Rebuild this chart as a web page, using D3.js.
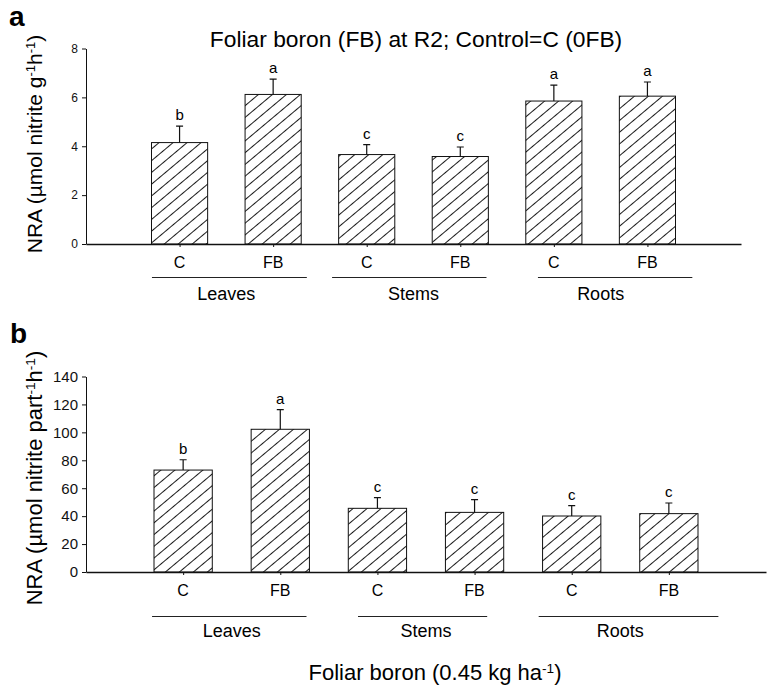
<!DOCTYPE html>
<html>
<head>
<meta charset="utf-8">
<script src="https://cdn.jsdelivr.net/npm/d3@7"></script>
<style>
  body { margin: 0; background: #fff; }
  svg { font-family: "Liberation Sans", Arial, sans-serif; }
</style>
</head>
<body>
<svg id="chart" width="768" height="687"></svg>
<script>
'use strict';

// categories
const parts = ["Leaves", "Stems", "Roots"];
const treatments = ["C", "FB"];

// panel a: NRA per g fresh weight
const nraFresh = [4.15, 6.12, 3.66, 3.58, 5.85, 6.05];
const nraFreshErr = [0.67, 0.63, 0.41, 0.39, 0.65, 0.58];
const nraFreshLetters = ["b", "a", "c", "c", "a", "a"];
const ticksA = [0, 2, 4, 6, 8];
const groupSpansA = [[0.705, 2.36], [2.63, 4.28], [4.83, 6.48]];

// panel b: NRA per plant part
const nraPart = [73, 102.2, 45.6, 42.7, 40.1, 41.8];
const nraPartErr = [7.4, 14.1, 7.6, 9.1, 7.4, 7.6];
const nraPartLetters = ["b", "a", "c", "c", "c", "c"];
const ticksB = [0, 20, 40, 60, 80, 100, 120, 140];
const groupSpansB = [[0.68, 2.27], [2.80, 4.13], [4.66, 6.51]];

function buildRows(values, errs, letters) {
    let rows = [];
    parts.forEach((p, gi) => {
        treatments.forEach((t, ti) => {
            let i = gi * 2 + ti;
            rows.push({ part: p, treat: t, pos: i + 1, value: values[i], err: errs[i], letter: letters[i] });
        });
    });
    return rows;
}

let svg = d3.select("#chart");

// hatch pattern
let defs = svg.append("defs");
defs.append("pattern")
    .attr("id", "hatch")
    .attr("patternUnits", "userSpaceOnUse")
    .attr("width", 9)
    .attr("height", 9)
    .attr("patternTransform", "rotate(-40)")
    .append("line")
    .attr("x1", 0).attr("x2", 9)
    .attr("y1", 4.5).attr("y2", 4.5)
    .attr("stroke", "#000")
    .attr("stroke-width", 0.9);

function superText(sel, parts) {
    // parts: array of [text, isSuper]
    parts.forEach(([txt, sup]) => {
        let t = sel.append("tspan").text(txt);
        if (sup) {
            t.attr("baseline-shift", "super").style("font-size", "0.62em");
        }
    });
}

function drawPanel(cfg) {
    let { rows, ticks, spans, x0, x1, yBottom, yTop, yMax, tickFont, letterFont, subY, lineY, groupY, subFont, groupFont } = cfg;

    let xScale = d3.scaleLinear().domain([0, 7]).range([x0, x1]);
    let yScale = d3.scaleLinear().domain([0, yMax]).range([yBottom, yTop]);
    let unit = xScale(1) - xScale(0);
    let barW = unit * 0.6;

    let g = svg.append("g");

    // bars
    g.selectAll(".bar")
        .data(rows)
        .enter()
        .append("rect")
        .attr("class", "bar")
        .attr("x", d => xScale(d.pos) - barW / 2)
        .attr("width", barW)
        .attr("y", d => yScale(d.value))
        .attr("height", d => yScale(0) - yScale(d.value))
        .attr("fill", "url(#hatch)")
        .attr("stroke", "#111")
        .attr("stroke-width", 1);

    // error bars (upper only)
    g.selectAll(".err")
        .data(rows)
        .enter()
        .append("path")
        .attr("class", "err")
        .attr("d", d => {
            let cx = xScale(d.pos), yt = yScale(d.value + d.err);
            return "M" + cx + "," + yScale(d.value) + "V" + yt + "M" + (cx - 3.5) + "," + yt + "H" + (cx + 3.5);
        })
        .attr("stroke", "#111")
        .attr("stroke-width", 1.2)
        .attr("fill", "none");

    // significance letters
    g.selectAll(".letter")
        .data(rows)
        .enter()
        .append("text")
        .attr("class", "letter")
        .attr("x", d => xScale(d.pos))
        .attr("y", d => yScale(d.value + d.err) - 6)
        .attr("text-anchor", "middle")
        .style("font-size", letterFont + "px")
        .text(d => d.letter);

    // y axis
    let yAxis = d3.axisLeft(yScale).tickValues(ticks).tickSize(4).tickSizeOuter(0).tickPadding(4);
    let ya = g.append("g")
        .attr("transform", "translate(" + x0 + ",0)")
        .call(yAxis);
    ya.selectAll("text").style("font-size", tickFont + "px").attr("fill", "#111").style("font-family", "inherit");
    ya.selectAll("line,path").attr("stroke", "#111");

    // x axis
    let xAxis = d3.axisBottom(xScale).tickValues(rows.map(d => d.pos)).tickFormat("").tickSize(3).tickSizeOuter(0);
    let xa = g.append("g")
        .attr("transform", "translate(0," + yBottom + ")")
        .call(xAxis);
    xa.selectAll("line").attr("stroke", "#111");
    xa.select(".domain").attr("stroke", "#111").attr("stroke-width", 1.3);

    // treatment labels
    g.selectAll(".treat")
        .data(rows)
        .enter()
        .append("text")
        .attr("class", "treat")
        .attr("x", d => xScale(d.pos))
        .attr("y", subY)
        .attr("text-anchor", "middle")
        .style("font-size", subFont + "px")
        .text(d => d.treat);

    // group lines
    g.selectAll(".gline")
        .data(spans)
        .enter()
        .append("line")
        .attr("class", "gline")
        .attr("x1", d => xScale(d[0]))
        .attr("x2", d => xScale(d[1]))
        .attr("y1", lineY)
        .attr("y2", lineY)
        .attr("stroke", "#222")
        .attr("stroke-width", 1);

    // group labels
    g.selectAll(".glabel")
        .data(parts)
        .enter()
        .append("text")
        .attr("class", "glabel")
        .attr("x", (d, i) => xScale(i * 2 + 1.5))
        .attr("y", groupY)
        .attr("text-anchor", "middle")
        .style("font-size", groupFont + "px")
        .text(d => d);
}

drawPanel({
    rows: buildRows(nraFresh, nraFreshErr, nraFreshLetters),
    ticks: ticksA, spans: groupSpansA,
    x0: 86, x1: 741, yBottom: 244, yTop: 48.5, yMax: 8,
    tickFont: 12, letterFont: 15, subY: 268, lineY: 277.5, groupY: 300, subFont: 16, groupFont: 18
});

drawPanel({
    rows: buildRows(nraPart, nraPartErr, nraPartLetters),
    ticks: ticksB, spans: groupSpansB,
    x0: 86, x1: 766, yBottom: 572, yTop: 376.5, yMax: 140,
    tickFont: 15, letterFont: 15, subY: 596, lineY: 616.5, groupY: 637, subFont: 16, groupFont: 18
});

// panel letters
svg.append("text").attr("x", 9).attr("y", 26)
    .style("font-size", "28px").style("font-weight", "bold").text("a");
svg.append("text").attr("x", 10).attr("y", 343)
    .style("font-size", "28px").style("font-weight", "bold").text("b");

// title
svg.append("text").attr("x", 416).attr("y", 47)
    .attr("text-anchor", "middle")
    .style("font-size", "22.8px")
    .text("Foliar boron (FB) at R2; Control=C (0FB)");

// y axis titles
let ylabA = svg.append("text")
    .attr("transform", "translate(42,144) rotate(-90)")
    .attr("text-anchor", "middle")
    .style("font-size", "21px");
superText(ylabA, [["NRA (\u00b5mol nitrite g", false], ["-1", true], ["h", false], ["-1", true], [")", false]]);

let ylabB = svg.append("text")
    .attr("transform", "translate(42,478) rotate(-90)")
    .attr("text-anchor", "middle")
    .style("font-size", "22px");
superText(ylabB, [["NRA (\u00b5mol nitrite part", false], ["-1", true], ["h", false], ["-1", true], [")", false]]);

// x axis title
let xlab = svg.append("text")
    .attr("x", 435).attr("y", 680)
    .attr("text-anchor", "middle")
    .style("font-size", "22px");
superText(xlab, [["Foliar boron (0.45 kg ha", false], ["-1", true], [")", false]]);
</script>
</body>
</html>
